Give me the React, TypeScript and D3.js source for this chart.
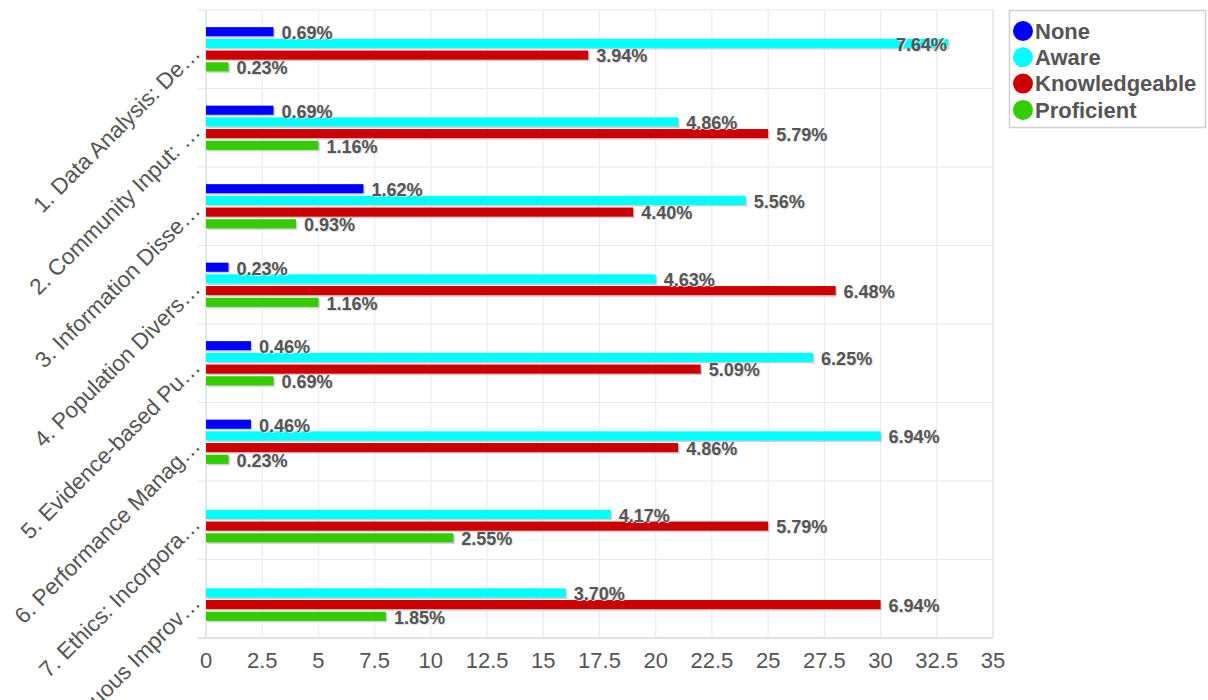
import React from "react";
import * as d3 from "d3";

// Competency areas (labels truncated as displayed on the axis)
const categories = [
  "1. Data Analysis: De…",
  "2. Community Input: …",
  "3. Information Disse…",
  "4. Population Divers…",
  "5. Evidence-based Pu…",
  "6. Performance Manag…",
  "7. Ethics: Incorpora…",
  "8. Continuous Improv…",
];

const seriesNames = ["None", "Aware", "Knowledgeable", "Proficient"];
const seriesColors = ["#0000ff", "#00ffff", "#cc0000", "#33cc00"];

// Response counts per competency area
const noneValues = [3, 3, 7, 1, 2, 2, 0, 0];
const awareValues = [33, 21, 24, 20, 27, 30, 18, 16];
const knowledgeableValues = [17, 25, 19, 28, 22, 21, 25, 30];
const proficientValues = [1, 5, 4, 5, 3, 1, 11, 8];

// Total number of responses used for percentage labels
const totalResponses = 432;

const xTicks = [0, 2.5, 5, 7.5, 10, 12.5, 15, 17.5, 20, 22.5, 25, 27.5, 30, 32.5, 35];

const W = 1208;
const H = 700;
const plot = { left: 206, right: 993, top: 10, bottom: 638 };
const textColor = "#555555";
const font = "'Liberation Sans', Arial, Helvetica, sans-serif";

export default function App() {
  const allSeries = [noneValues, awareValues, knowledgeableValues, proficientValues];

  const x = d3.scaleLinear().domain([0, 35]).range([plot.left, plot.right]);
  const y = d3
    .scaleBand<string>()
    .domain(categories)
    .range([plot.top, plot.bottom])
    .padding(0);
  const bandH = y.bandwidth();
  const groupH = 46.8;
  const inner = d3
    .scaleBand<string>()
    .domain(seriesNames)
    .range([(bandH - groupH) / 2, (bandH + groupH) / 2])
    .paddingInner(0.22)
    .paddingOuter(0.11);
  const barH = inner.bandwidth();

  const labelSize = 18;
  const approxLabelWidth = (s: string) => s.length * labelSize * 0.57;

  return (
    <svg
      width={W}
      height={H}
      style={{ position: "absolute", left: 0, top: 0, background: "#fff" }}
      fontFamily={font}
    >
      {/* vertical gridlines */}
      {xTicks.map((t) => (
        <line
          key={"vg" + t}
          x1={x(t)}
          x2={x(t)}
          y1={plot.top}
          y2={plot.bottom}
          stroke="#ececef"
          strokeWidth={1.2}
        />
      ))}
      {/* horizontal category separators with small ticks */}
      {d3.range(categories.length + 1).map((i) => {
        const yy = plot.top + i * bandH;
        return (
          <line
            key={"hg" + i}
            x1={plot.left - 8}
            x2={plot.right}
            y1={yy}
            y2={yy}
            stroke={i === categories.length ? "#dde2ee" : "#e8e8ef"}
            strokeWidth={i === categories.length ? 1.8 : 1.2}
          />
        );
      })}
      {/* plot frame */}
      <line x1={plot.right} x2={plot.right} y1={plot.top} y2={plot.bottom} stroke="#e4e4e8" strokeWidth={1.2} />
      <line x1={plot.left} x2={plot.left} y1={plot.top} y2={plot.bottom} stroke="#dde2ee" strokeWidth={1.5} />

      {/* bars */}
      {categories.map((c, ci) => (
        <g key={c} transform={`translate(0,${y(c)})`}>
          {allSeries.map((vals, si) => {
            const v = vals[ci];
            if (v <= 0) return null;
            const by = inner(seriesNames[si]) as number;
            const w = x(v) - x(0);
            return (
              <g key={si}>
                <rect x={x(0) + 1.5} y={by + 1.5} width={w} height={barH} fill="#c8c8c8" opacity={0.85} />
                <rect x={x(0)} y={by} width={w} height={barH} fill={seriesColors[si]} />
              </g>
            );
          })}
        </g>
      ))}

      {/* value labels */}
      {categories.map((c, ci) => (
        <g key={"l" + c} transform={`translate(0,${y(c)})`}>
          {allSeries.map((vals, si) => {
            const v = vals[ci];
            if (v <= 0) return null;
            const label = ((v / totalResponses) * 100).toFixed(2) + "%";
            const cy = (inner(seriesNames[si]) as number) + barH / 2 + 1;
            const end = x(v);
            const outside = end + 8 + approxLabelWidth(label) <= plot.right;
            const tx = outside ? end + 8 : end - 1;
            const anchor = outside ? "start" : "end";
            return (
              <g key={si}>
                <text
                  x={tx + 1}
                  y={cy + 1}
                  dy="0.35em"
                  textAnchor={anchor}
                  fontSize={labelSize}
                  fontWeight="bold"
                  fill="#dddddd"
                >
                  {label}
                </text>
                <text
                  x={tx}
                  y={cy}
                  dy="0.35em"
                  textAnchor={anchor}
                  fontSize={labelSize}
                  fontWeight="bold"
                  fill={textColor}
                >
                  {label}
                </text>
              </g>
            );
          })}
        </g>
      ))}

      {/* x axis tick labels */}
      {xTicks.map((t) => (
        <text
          key={"xt" + t}
          x={x(t)}
          y={plot.bottom + 22}
          dy="0.35em"
          textAnchor="middle"
          fontSize={22}
          fill={textColor}
        >
          {String(t)}
        </text>
      ))}

      {/* y axis category labels, rotated */}
      {categories.map((c) => (
        <text
          key={"yt" + c}
          transform={`translate(${plot.left - 10},${(y(c) as number) + bandH / 2}) rotate(-45)`}
          dy="0.35em"
          textAnchor="end"
          fontSize={22.5}
          fill={textColor}
        >
          {c}
        </text>
      ))}

      {/* legend */}
      <g>
        <rect x={1009.5} y={10.5} width={196} height={117} fill="#fff" stroke="#cfcfcf" strokeWidth={1.5} />
        {seriesNames.map((s, i) => {
          const cy = 31 + i * 26.3;
          return (
            <g key={"lg" + s}>
              <circle cx={1023} cy={cy} r={10} fill={seriesColors[i]} />
              <text x={1035} y={cy} dy="0.35em" fontSize={22} fontWeight="bold" fill={textColor}>
                {s}
              </text>
            </g>
          );
        })}
      </g>
    </svg>
  );
}
